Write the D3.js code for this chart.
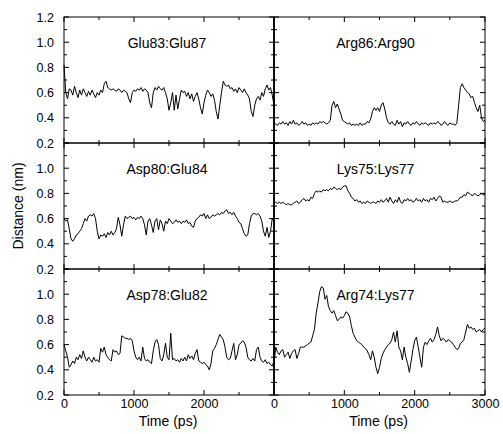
<!DOCTYPE html>
<html><head><meta charset="utf-8">
<script src="https://cdn.jsdelivr.net/npm/d3@7"></script>
<style>body{margin:0;background:#fff}svg{display:block}</style>
</head><body>
<svg id="c" width="503" height="434"></svg>
<script>
// ---- data ----
const timeStep = 25; // ps
const times = d3.range(0, 3001, timeStep);

const glu83Glu87 = [
0.82,0.60,0.55,0.63,0.62,0.58,0.65,0.60,0.56,0.62,
0.58,0.63,0.60,0.57,0.61,0.58,0.62,0.59,0.56,0.60,
0.58,0.62,0.60,0.67,0.69,0.64,0.63,0.62,0.63,0.62,
0.61,0.63,0.62,0.60,0.62,0.61,0.60,0.55,0.52,0.60,
0.62,0.61,0.63,0.62,0.64,0.61,0.63,0.62,0.60,0.52,
0.48,0.60,0.64,0.62,0.65,0.63,0.62,0.64,0.60,0.55,
0.46,0.52,0.60,0.46,0.58,0.47,0.55,0.62,0.60,0.61,
0.57,0.60,0.55,0.59,0.53,0.57,0.60,0.55,0.48,0.43,
0.52,0.58,0.62,0.60,0.57,0.59,0.54,0.45,0.39,0.50,
0.60,0.69,0.66,0.65,0.66,0.63,0.64,0.61,0.63,0.60,
0.64,0.62,0.60,0.63,0.60,0.58,0.55,0.45,0.41,0.50,
0.55,0.57,0.54,0.60,0.57,0.63,0.66,0.62,0.64,0.58,
0.50];

const arg86Arg90 = [
0.36,0.35,0.34,0.36,0.35,0.37,0.35,0.36,0.34,0.37,
0.35,0.38,0.35,0.36,0.34,0.35,0.37,0.35,0.36,0.34,
0.35,0.34,0.36,0.35,0.36,0.35,0.37,0.36,0.37,0.36,
0.35,0.36,0.38,0.50,0.53,0.48,0.51,0.47,0.43,0.38,
0.37,0.36,0.35,0.36,0.34,0.35,0.34,0.35,0.34,0.36,
0.34,0.35,0.35,0.37,0.36,0.39,0.45,0.48,0.46,0.48,
0.45,0.50,0.52,0.47,0.40,0.36,0.35,0.37,0.35,0.34,
0.38,0.35,0.37,0.33,0.36,0.35,0.37,0.35,0.34,0.36,
0.35,0.37,0.35,0.34,0.36,0.35,0.36,0.35,0.34,0.36,
0.35,0.36,0.35,0.37,0.36,0.34,0.35,0.37,0.35,0.34,
0.36,0.35,0.35,0.34,0.36,0.50,0.64,0.67,0.64,0.62,
0.60,0.59,0.56,0.57,0.52,0.48,0.45,0.50,0.40,0.37,
0.38];

const asp80Glu84 = [
0.60,0.58,0.59,0.52,0.44,0.42,0.44,0.47,0.48,0.50,
0.52,0.56,0.60,0.58,0.62,0.63,0.62,0.64,0.60,0.50,
0.44,0.47,0.46,0.48,0.45,0.49,0.47,0.50,0.47,0.49,
0.52,0.61,0.55,0.46,0.55,0.62,0.60,0.61,0.62,0.60,
0.61,0.59,0.61,0.60,0.62,0.60,0.55,0.47,0.58,0.60,
0.55,0.49,0.58,0.60,0.51,0.59,0.56,0.50,0.58,0.56,
0.60,0.58,0.56,0.57,0.59,0.57,0.58,0.56,0.58,0.57,
0.59,0.56,0.57,0.54,0.53,0.58,0.60,0.61,0.63,0.62,
0.64,0.60,0.63,0.60,0.61,0.63,0.62,0.63,0.64,0.63,
0.65,0.64,0.66,0.67,0.64,0.65,0.63,0.65,0.62,0.60,
0.57,0.56,0.52,0.48,0.46,0.47,0.56,0.62,0.64,0.64,
0.63,0.64,0.62,0.58,0.50,0.46,0.53,0.45,0.50,0.60,
0.58];

const lys75Lys77 = [
0.73,0.73,0.72,0.73,0.72,0.73,0.72,0.71,0.72,0.71,
0.71,0.72,0.73,0.74,0.72,0.73,0.75,0.76,0.74,0.75,
0.74,0.77,0.76,0.80,0.82,0.81,0.82,0.81,0.83,0.82,
0.83,0.82,0.84,0.83,0.85,0.84,0.83,0.84,0.83,0.85,
0.86,0.86,0.82,0.80,0.77,0.76,0.74,0.75,0.73,0.74,
0.72,0.73,0.72,0.74,0.73,0.72,0.73,0.73,0.72,0.74,
0.73,0.75,0.73,0.74,0.76,0.73,0.77,0.74,0.72,0.75,
0.73,0.77,0.73,0.72,0.75,0.74,0.76,0.74,0.75,0.73,
0.74,0.76,0.74,0.75,0.73,0.76,0.74,0.75,0.73,0.76,
0.75,0.77,0.74,0.76,0.78,0.77,0.73,0.74,0.73,0.73,
0.74,0.73,0.73,0.74,0.74,0.75,0.77,0.77,0.79,0.78,
0.81,0.80,0.79,0.78,0.80,0.79,0.78,0.79,0.80,0.79,
0.79];

const asp78Glu82 = [
0.60,0.55,0.50,0.42,0.44,0.47,0.45,0.50,0.48,0.52,
0.49,0.55,0.50,0.47,0.50,0.48,0.46,0.50,0.47,0.48,
0.46,0.57,0.54,0.58,0.52,0.50,0.48,0.47,0.56,0.54,
0.55,0.52,0.53,0.67,0.66,0.65,0.65,0.64,0.65,0.63,
0.55,0.50,0.48,0.50,0.47,0.58,0.49,0.47,0.48,0.46,
0.45,0.55,0.62,0.64,0.60,0.49,0.47,0.52,0.61,0.50,
0.48,0.69,0.48,0.49,0.47,0.48,0.46,0.49,0.47,0.50,
0.47,0.52,0.49,0.51,0.48,0.53,0.56,0.47,0.46,0.45,
0.46,0.44,0.43,0.40,0.45,0.55,0.57,0.60,0.64,0.68,
0.66,0.64,0.58,0.50,0.48,0.49,0.55,0.61,0.48,0.52,
0.60,0.61,0.63,0.62,0.58,0.50,0.48,0.47,0.49,0.47,
0.56,0.58,0.50,0.47,0.46,0.48,0.45,0.46,0.44,0.43,
0.47];

const arg74Lys77 = [
0.45,0.58,0.54,0.52,0.55,0.56,0.50,0.52,0.54,0.49,
0.53,0.55,0.56,0.49,0.53,0.58,0.58,0.58,0.59,0.60,
0.61,0.62,0.67,0.72,0.85,0.93,1.02,1.06,1.05,0.96,
0.99,0.90,0.87,0.85,0.87,0.83,0.79,0.80,0.82,0.81,
0.83,0.86,0.85,0.82,0.75,0.69,0.66,0.63,0.62,0.61,
0.60,0.58,0.57,0.55,0.52,0.48,0.55,0.50,0.42,0.37,
0.42,0.49,0.53,0.56,0.58,0.60,0.61,0.64,0.70,0.62,
0.71,0.58,0.55,0.48,0.58,0.50,0.45,0.38,0.47,0.56,
0.63,0.66,0.58,0.50,0.42,0.58,0.62,0.60,0.63,0.65,
0.62,0.64,0.68,0.74,0.67,0.63,0.65,0.64,0.62,0.64,
0.63,0.62,0.60,0.58,0.56,0.57,0.61,0.62,0.64,0.70,
0.76,0.73,0.74,0.72,0.73,0.70,0.71,0.72,0.70,0.72,
0.73];

const panelTitles = ["Glu83:Glu87","Arg86:Arg90","Asp80:Glu84","Lys75:Lys77","Asp78:Glu82","Arg74:Lys77"];
const panelSeries = [glu83Glu87, arg86Arg90, asp80Glu84, lys75Lys77, asp78Glu82, arg74Lys77];
const yTicksTop = [0.2,0.4,0.6,0.8,1.0,1.2];
const yTicksOther = [0.2,0.4,0.6,0.8,1.0];
const xTicksLeft = [0,1000,2000];
const xTicksRight = [0,1000,2000,3000];
const yLabel = "Distance (nm)";
const xLabel = "Time (ps)";

// ---- layout ----
const svg = d3.select("#c");
const colX = [[64,274],[274,485]];
const rowY = [[17,143],[143,269],[269,395]];
const font = "'Liberation Sans', Arial, Helvetica, sans-serif";

const minorY = d3.range(0.2, 1.2001, 0.1).map(v => +v.toFixed(1));
const minorX = d3.range(0, 3001, 500);

panelSeries.forEach((vals, i) => {
  const col = i % 2, row = Math.floor(i / 2);
  const [x0, x1] = colX[col], [y0, y1] = rowY[row];
  const x = d3.scaleLinear().domain([0, 3000]).range([x0, x1]);
  const y = d3.scaleLinear().domain([0.2, 1.2]).range([y1, y0]);
  const g = svg.append("g");

  // minor/major ticks (inward) on all four sides
  const tickG = g.append("g").attr("stroke", "#000").attr("stroke-width", 1);
  minorY.forEach(v => {
    const major = Math.abs((v * 10) % 2) < 1e-6 || Math.abs((v*10)%2-2) < 1e-6;
    const L = major ? 5 : 3;
    tickG.append("line").attr("x1", x0).attr("x2", x0 + L).attr("y1", y(v)).attr("y2", y(v));
    tickG.append("line").attr("x1", x1).attr("x2", x1 - L).attr("y1", y(v)).attr("y2", y(v));
  });
  minorX.forEach(t => {
    const L = (t % 1000 === 0) ? 5 : 3;
    tickG.append("line").attr("x1", x(t)).attr("x2", x(t)).attr("y1", y1).attr("y2", y1 - L);
    tickG.append("line").attr("x1", x(t)).attr("x2", x(t)).attr("y1", y0).attr("y2", y0 + L);
  });

  // y axis labels (left column only)
  if (col === 0) {
    const ax = d3.axisLeft(y).tickValues(row === 0 ? yTicksTop : yTicksOther)
      .tickFormat(d3.format(".1f")).tickSizeInner(0).tickSizeOuter(0).tickPadding(10);
    const a = g.append("g").attr("transform", `translate(${x0},0)`).call(ax);
    a.select(".domain").remove();
    a.selectAll("text").attr("font-family", font).attr("font-size", 12.5).attr("fill", "#000");
  }
  // x axis labels (bottom row only)
  if (row === 2) {
    const ax = d3.axisBottom(x).tickValues(col === 0 ? xTicksLeft : xTicksRight)
      .tickFormat(d3.format("d")).tickSizeInner(0).tickSizeOuter(0).tickPadding(4);
    const a = g.append("g").attr("transform", `translate(0,${y1})`).call(ax);
    a.select(".domain").remove();
    a.selectAll("text").attr("font-family", font).attr("font-size", 12.5).attr("fill", "#000");
    g.append("text").attr("x", (x0 + x1) / 2 - 1).attr("y", 426)
      .attr("text-anchor", "middle").attr("font-family", font).attr("font-size", 14)
      .text(xLabel);
  }

  // trace
  const line = d3.line().x((d, k) => x(times[k])).y(d => y(d));
  g.append("path").datum(vals).attr("d", line)
    .attr("fill", "none").attr("stroke", "#000").attr("stroke-width", 1);

  // frame
  g.append("rect").attr("x", x0).attr("y", y0).attr("width", x1 - x0).attr("height", y1 - y0)
    .attr("fill", "none").attr("stroke", "#000").attr("stroke-width", 1);

  // title
  g.append("text").attr("x", (x0 + x1) / 2 + (col === 0 ? -2 : -4)).attr("y", y0 + 31)
    .attr("text-anchor", "middle").attr("font-family", font).attr("font-size", 14)
    .text(panelTitles[i]);
});

// thicker column divider
svg.append("line").attr("x1", 274).attr("x2", 274).attr("y1", 17).attr("y2", 395)
  .attr("stroke", "#000").attr("stroke-width", 1.6);

// y label
svg.append("text").attr("transform", "translate(23,206) rotate(-90)")
  .attr("text-anchor", "middle").attr("font-family", font).attr("font-size", 14)
  .text(yLabel);
</script>
</body></html>
